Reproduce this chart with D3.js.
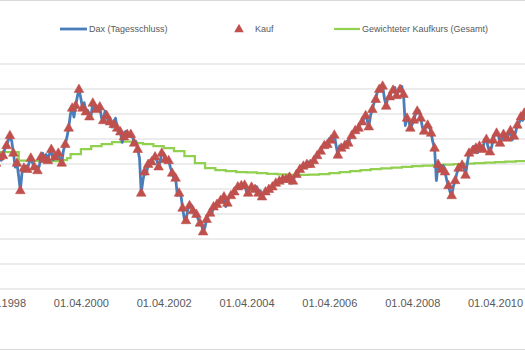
<!DOCTYPE html>
<html>
<head>
<meta charset="utf-8">
<script src="https://cdn.jsdelivr.net/npm/d3@7"></script>
<style>
  html, body { margin: 0; padding: 0; background: #fff; overflow: hidden; }
  svg { display: block; font-family: "Liberation Sans", Arial, sans-serif; }
</style>
</head>
<body>
<svg id="chart" width="525" height="350"></svg>
<script>
// DAX closes, two observations per month (15th and month end), Jan 1998 .. Dec 2010
const daxYears = d3.range(1998, 2011);
const daxValues = [
  // 1998
  4300, 4441, 4650, 4710, 5000, 5097, 5250, 5107, 5300, 5568, 5700, 5897,
  6100, 5873, 5400, 4834, 5000, 4474, 3900, 4671, 4800, 4880, 4750, 5002,
  // 1999
  5200, 5000, 4850, 4855, 4700, 4884, 5250, 5393, 5150, 5339, 5100, 5379,
  5550, 5127, 5250, 5320, 5400, 5150, 5000, 5525, 5750, 6032, 6400, 6958,
  // 2000
  7200, 6835, 7300, 7644, 7950, 7599, 7200, 7414, 7050, 7109, 6850, 6898,
  7400, 7190, 7150, 7185, 7250, 6798, 6700, 7078, 6900, 6600, 6650, 6434,
  // 2001
  6550, 6795, 6400, 6208, 6250, 5830, 6050, 6264, 6150, 6123, 6150, 6058,
  5800, 5861, 5550, 5188, 3800, 4308, 4650, 4559, 4950, 5100, 5050, 5160,
  // 2002
  5250, 5107, 4850, 5039, 5400, 5397, 5150, 5041, 5100, 4818, 4600, 4383,
  4400, 3701, 3800, 3712, 3200, 2769, 2700, 3153, 3300, 3321, 3100, 2893,
  // 2003
  2950, 2748, 2600, 2547, 2250, 2424, 2750, 2942, 3000, 2983, 3250, 3221,
  3350, 3487, 3500, 3485, 3650, 3257, 3400, 3655, 3700, 3746, 3850, 3965,
  // 2004
  4050, 4059, 4100, 4018, 4120, 3857, 3800, 3985, 4040, 3921, 3950, 4052,
  3800, 3895, 3650, 3785, 3850, 3893, 3950, 3960, 4050, 4126, 4200, 4256,
  // 2005
  4280, 4254, 4350, 4400, 4350, 4349, 4440, 4185, 4280, 4460, 4550, 4587,
  4750, 4886, 4880, 4829, 4950, 5044, 4950, 4929, 5100, 5193, 5300, 5408,
  // 2006
  5480, 5674, 5700, 5797, 5750, 5970, 5920, 6009, 6120, 5692, 5320, 5683,
  5600, 5682, 5700, 5859, 5800, 6004, 6100, 6269, 6300, 6309, 6400, 6597,
  // 2007
  6650, 6789, 6900, 6716, 6450, 6917, 7150, 7409, 7550, 7883, 7950, 8007,
  8080, 7584, 7280, 7638, 7650, 7862, 7920, 8020, 7700, 7871, 7950, 8067,
  // 2008
  7750, 6500, 6800, 6748, 6400, 6535, 6720, 6949, 7080, 7096, 6800, 6418,
  6280, 6479, 6520, 6422, 6200, 5831, 5600, 4300, 4950, 4700, 4750, 4900,
  // 2009
  4650, 4300, 4100, 3850, 3700, 4085, 4300, 4600, 4800, 4941, 4920, 4809,
  4520, 5000, 5400, 5458, 5500, 5675, 5600, 5414, 5680, 5625, 5550, 5957,
  // 2010
  5950, 5608, 5450, 5598, 5920, 6154, 6200, 6136, 5800, 5964, 6150, 5966,
  6000, 6148, 6300, 5925, 6080, 6229, 6520, 6601, 6850, 6700, 7000, 6914
];

// Purchases ("Kauf") are made on the 15th of each month
const kaufDay = 15;

// Weighted average purchase price, recalculated each quarter
const kursDates = [
  "1998-01-01", "1998-04-01", "1998-07-01", "1998-10-01",
  "1999-01-01", "1999-04-01", "1999-07-01", "1999-10-01", "1999-12-01",
  "2000-01-01", "2000-04-01", "2000-07-01", "2000-10-01",
  "2001-01-01", "2001-04-01", "2001-07-01", "2001-10-01",
  "2002-01-01", "2002-04-01", "2002-07-01", "2002-10-01",
  "2003-01-01", "2003-04-01", "2003-07-01", "2003-10-01",
  "2004-01-01", "2004-04-01", "2004-07-01", "2004-10-01",
  "2005-01-01", "2005-04-01", "2005-07-01", "2005-10-01",
  "2006-01-01", "2006-04-01", "2006-07-01", "2006-10-01",
  "2007-01-01", "2007-04-01", "2007-07-01", "2007-10-01",
  "2008-01-01", "2008-04-01", "2008-07-01", "2008-10-01",
  "2009-01-01", "2009-04-01", "2009-07-01", "2009-10-01",
  "2010-01-01", "2010-04-01", "2010-07-01", "2010-10-01",
  "2011-01-01"
];
const kursValues = [
  5440, 5440, 5440, 5100,
  5090, 5080, 5080, 5120, 5200,
  5360, 5560, 5680, 5760,
  5840, 5860, 5800, 5760,
  5680, 5600, 5480, 5280,
  5000, 4800, 4720, 4680,
  4640, 4630, 4600, 4570,
  4550, 4530, 4530, 4540,
  4560, 4600, 4640, 4680,
  4720, 4760, 4790, 4820,
  4850, 4880, 4900, 4920,
  4940, 4960, 4980, 5000,
  5020, 5040, 5060, 5080,
  5090
];

// Axis labels every two years, on 1 April
const tickDates = ["1998-04-01", "2000-04-01", "2002-04-01", "2004-04-01",
                   "2006-04-01", "2008-04-01", "2010-04-01"];
const yGridValues = [0, 1000, 2000, 3000, 4000, 5000, 6000, 7000, 8000, 9000];

const seriesNames = ["Dax (Tagesschluss)", "Kauf", "Gewichteter Kaufkurs (Gesamt)"];
const colors = { dax: "#4A7EBB", kauf: "#C0504D", kurs: "#92D050", grid: "#D9D9D9", text: "#595959" };

// ---- build records ----
const parse = d3.timeParse("%Y-%m-%d");
const dax = [];
daxYears.forEach((yr, yi) => {
  for (let m = 0; m < 12; m++) {
    const i = (yi * 12 + m) * 2;
    dax.push({ date: new Date(yr, m, kaufDay), value: daxValues[i], mid: true });
    dax.push({ date: new Date(yr, m + 1, 0), value: daxValues[i + 1], mid: false });
  }
});
const kauf = dax.filter(d => d.mid);
const kurs = kursDates.map((d, i) => ({ date: parse(d), value: kursValues[i] }));

// ---- scales ----
const W = 525, H = 350;
const x = d3.scaleTime()
  .domain([parse("1998-04-01"), parse("2010-04-01")])
  .range([-2, 495]);
const y = d3.scaleLinear().domain([0, 9000]).range([288, 63]);

const svg = d3.select("#chart");

// chart frame
svg.append("rect")
  .attr("x", -10).attr("y", 0.5).attr("width", W + 20).attr("height", H - 1)
  .attr("fill", "#fff").attr("stroke", colors.grid).attr("stroke-width", 1);

// horizontal gridlines
const grid = svg.append("g")
  .attr("transform", "translate(-20,0.5)")
  .call(d3.axisRight(y).tickValues(yGridValues).tickSize(W + 40).tickFormat(""));
grid.select(".domain").remove();
grid.selectAll("line").attr("stroke", colors.grid).attr("stroke-width", 1);

// x axis labels
const xAxis = svg.append("g")
  .attr("transform", `translate(0,${y(0)})`)
  .call(d3.axisBottom(x)
    .tickValues(tickDates.map(parse))
    .tickFormat(d3.timeFormat("%d.%m.%Y"))
    .tickSize(0)
    .tickPadding(11));
xAxis.select(".domain").remove();
xAxis.selectAll("text")
  .attr("fill", colors.text)
  .style("font-size", "11px")
  .style("font-family", '"Liberation Sans", Arial, sans-serif');

// weighted purchase price (stepped)
svg.append("path")
  .datum(kurs)
  .attr("fill", "none")
  .attr("stroke", colors.kurs)
  .attr("stroke-width", 2.25)
  .attr("d", d3.line().curve(d3.curveStepAfter).x(d => x(d.date)).y(d => y(d.value)));

// DAX close
svg.append("path")
  .datum(dax)
  .attr("fill", "none")
  .attr("stroke", colors.dax)
  .attr("stroke-width", 2.8)
  .attr("stroke-linejoin", "round")
  .attr("d", d3.line().x(d => x(d.date)).y(d => y(d.value)));

// purchase markers
const tri = "M0,-5.2L4.8,3.2L-4.8,3.2Z";
svg.append("g")
  .selectAll("path")
  .data(kauf)
  .join("path")
  .attr("transform", d => `translate(${x(d.date)},${y(d.value)})`)
  .attr("d", tri)
  .attr("fill", colors.kauf)
  .attr("stroke", colors.kauf)
  .attr("stroke-width", 0.6)
  .attr("stroke-linejoin", "round");

// legend
const legend = svg.append("g").attr("font-size", "9px").attr("fill", colors.text);
const ly = 29;
legend.append("line")
  .attr("x1", 60).attr("x2", 87).attr("y1", ly).attr("y2", ly)
  .attr("stroke", colors.dax).attr("stroke-width", 2.8);
legend.append("text").attr("x", 89).attr("y", ly + 3.2).text(seriesNames[0]);
legend.append("path")
  .attr("transform", `translate(239,${ly})`)
  .attr("d", tri).attr("fill", colors.kauf);
legend.append("text").attr("x", 255).attr("y", ly + 3.2).text(seriesNames[1]);
legend.append("line")
  .attr("x1", 334).attr("x2", 360).attr("y1", ly).attr("y2", ly)
  .attr("stroke", colors.kurs).attr("stroke-width", 2.25);
legend.append("text").attr("x", 362).attr("y", ly + 3.2).text(seriesNames[2]);
</script>
</body>
</html>
